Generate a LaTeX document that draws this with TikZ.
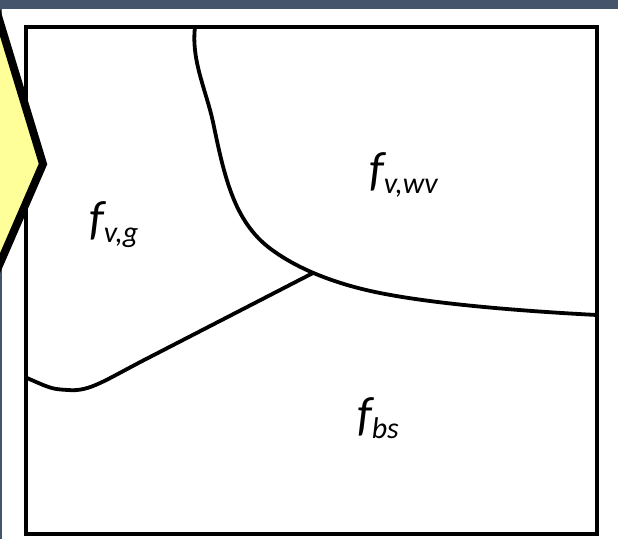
\documentclass[tikz,border=0pt]{standalone}
\usepackage{fontspec}
\setmainfont{Carlito}
\definecolor{barcol}{HTML}{44546A}
\definecolor{penyellow}{HTML}{FFFF99}
\tikzset{
  region/.style={line width=3.8pt, line cap=round, line join=round},
  frame/.style={line width=4.5pt},
  lbl/.style={anchor=base west, inner sep=0pt, font=\itshape}
}
\newcommand\flab[1]{{\fontsize{48}{48}\selectfont f}\raisebox{-8pt}{\fontsize{30}{30}\selectfont #1}}
\begin{document}
\begin{tikzpicture}[x=1pt,y=-1pt]
\useasboundingbox (0,0) rectangle (618,539);
\fill[white] (0,0) rectangle (618,539);
\fill[barcol] (0,9) rectangle (1.6,539);
% frame
\draw[frame] (26,27) coordinate (tl) rectangle (597,534) coordinate (br);
% boundaries
\coordinate (top) at (195,27);
\coordinate (mid) at (313,273);
\coordinate (right) at (597,315);
\coordinate (left) at (27,378);
\draw[region] (top) .. controls (191,60) and (206,90) .. (213,122)
  .. controls (225,180) and (235,225) .. (275,252)
  .. controls (292,264) and (325,282) .. (380,293)
  .. controls (435,304) and (520,311) .. (right);
\draw[region] (mid) -- (150,357) .. controls (105,380) and (90,392) .. (68,390) .. controls (52,389) .. (left);
% labels
\node[lbl] (fvg) at (89,234) {\flab{v,g}};
\node[lbl] (fvwv) at (369,185) {\flab{v,wv}};
\node[lbl] (fbs) at (357,430) {\flab{bs}};
% pentagon arrow
\draw[fill=penyellow, line width=8pt, line join=miter] (-19,-40) -- (43,164) -- (-42,360) -- (-80,360) -- (-80,-40) -- cycle;
% top bar
\fill[barcol] (0,0) rectangle (618,9);
\end{tikzpicture}
\end{document}
